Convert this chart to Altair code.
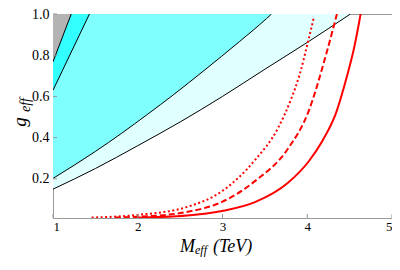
import altair as alt
import pandas as pd

# ---- data ----
# boundary curves of the shaded regions (M_eff in TeV, g_eff)
b1_m = [1.0, 1.215]
b1_g = [0.768, 1.0]
b2_m = [1.0, 1.43]
b2_g = [0.63, 1.0]
b3_m = [1.0, 1.5, 1.806, 2.118, 2.418, 2.78, 3.2, 3.52, 3.578]
b3_g = [0.202, 0.333, 0.42, 0.514, 0.607, 0.725, 0.866, 0.978, 1.0]
b4_m = [1.0, 1.5, 2.0, 2.5, 3.0, 3.5, 4.0, 4.51]
b4_g = [0.15, 0.25, 0.361, 0.476, 0.60, 0.732, 0.862, 1.0]

# red curves
dot_m = [1.456, 2.0, 2.585, 2.994, 3.383, 3.656, 3.81, 3.91, 4.007, 4.08]
dot_g = [0.012, 0.025, 0.064, 0.14, 0.291, 0.447, 0.588, 0.706, 0.862, 0.987]
dash_m = [1.73, 2.0, 2.585, 2.994, 3.383, 3.77, 4.014, 4.22, 4.35]
dash_g = [0.012, 0.016, 0.040, 0.088, 0.189, 0.345, 0.526, 0.80, 1.0]
sol_m = [1.96, 2.585, 2.994, 3.383, 3.773, 4.014, 4.18, 4.34, 4.47, 4.55, 4.63]
sol_g = [0.011, 0.022, 0.044, 0.087, 0.181, 0.283, 0.385, 0.52, 0.70, 0.83, 1.0]

x_ticks = [1, 2, 3, 4, 5]
y_ticks = [0.2, 0.4, 0.6, 0.8, 1.0]

W, H = 339, 204
FONT = "Liberation Serif"


def frame(ms, gs, name):
    return pd.DataFrame({"M": ms, "g": gs, "curve": name, "top": 1.0})


xs = alt.Scale(domain=[1, 5], nice=False)
ys = alt.Scale(domain=[0.01, 1], nice=False, zero=False)
X = alt.X("M:Q", scale=xs,
          axis=alt.Axis(values=x_ticks, format="d", title=None, grid=False, ticks=False,
                        labelFont=FONT, labelFontSize=13, labelPadding=2,
                        domainColor="#999999", labelColor="black"))
Y = alt.Y("g:Q", scale=ys,
          axis=alt.Axis(values=y_ticks, format=".1f", title=None, grid=False, ticks=False,
                        labelFont=FONT, labelFontSize=14, labelPadding=4,
                        domainColor="#999999", labelColor="black"))


def area(ms, gs, name, color):
    return alt.Chart(frame(ms, gs, name)).mark_area(
        color=color, opacity=1, interpolate="monotone", clip=True
    ).encode(x=X, y=Y, y2=alt.Y2("top:Q"))


def bline(ms, gs, name):
    return alt.Chart(frame(ms, gs, name)).mark_line(
        color="black", strokeWidth=1, interpolate="monotone", clip=True
    ).encode(x=X, y=Y)


def rline(ms, gs, name, dash):
    kw = dict(color="#ff0000", strokeWidth=2, interpolate="monotone", clip=True)
    if dash:
        kw["strokeDash"] = dash
    return alt.Chart(frame(ms, gs, name)).mark_line(**kw).encode(x=X, y=Y)


layers = [
    area(b4_m, b4_g, "b4", "#e0ffff"),
    area(b3_m, b3_g, "b3", "#80ffff"),
    area(b2_m, b2_g, "b2", "#33ffff"),
    area(b1_m, b1_g, "b1", "#b3b3b3"),
    bline(b1_m, b1_g, "b1"),
    bline(b2_m, b2_g, "b2"),
    bline(b3_m, b3_g, "b3"),
    bline(b4_m, b4_g, "b4"),
    rline(dot_m, dot_g, "dot", [2, 2.5]),
    rline(dash_m, dash_g, "dash", [6, 3]),
    rline(sol_m, sol_g, "sol", None),
]

# inward ticks
xt = alt.Chart(pd.DataFrame({"M": x_ticks})).mark_rule(color="#999999").encode(
    x=alt.X("M:Q", scale=xs), y=alt.value(H), y2=alt.value(H - 4))
yt = alt.Chart(pd.DataFrame({"g": y_ticks})).mark_rule(color="#999999").encode(
    y=alt.Y("g:Q", scale=ys), x=alt.value(0), x2=alt.value(4))
layers += [xt, yt]


# axis titles built from text pieces (for subscripts)
def txt(s, x, y, size, angle=0, align="left"):
    kw = dict(text=s, font=FONT, fontStyle="italic", fontSize=size, color="black",
              align=align, baseline="alphabetic")
    if angle:
        kw["angle"] = angle
    return alt.Chart(pd.DataFrame({"a": [0]})).mark_text(**kw).encode(
        x=alt.value(x), y=alt.value(y))


layers += [
    txt("M", 127, 238, 18),
    txt("eff", 142, 240, 12),
    txt("(TeV)", 160, 238, 18),
    txt("g", -27, 108, 19, angle=270, align="center"),
    txt("eff", -23, 91, 14, angle=270, align="center"),
]

chart = alt.layer(*layers).properties(
    width=W, height=H,
    autosize=alt.AutoSizeParams(type="none"),
    padding={"left": 45, "top": 6, "right": 0, "bottom": 39},
).configure_view(stroke="#999999", strokeWidth=1)

chart.save("out.html", embed_options={"renderer": "svg", "actions": False})
